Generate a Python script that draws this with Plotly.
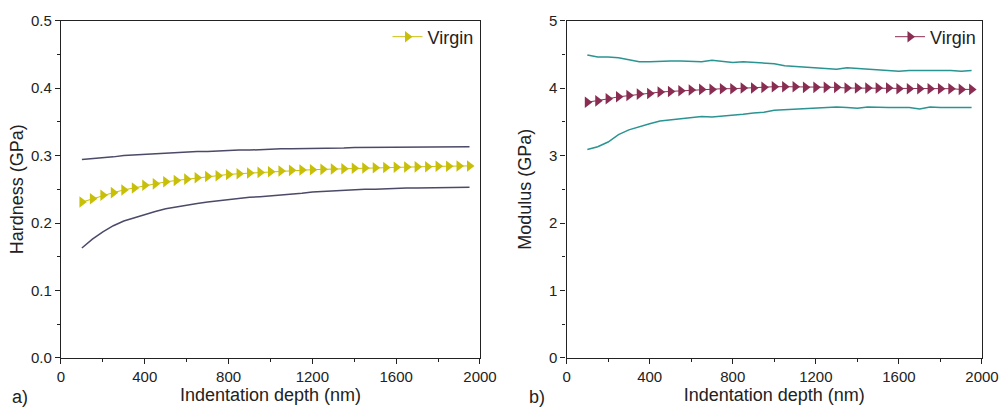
import plotly.graph_objects as go

depth = [100, 150, 200, 250, 300, 350, 400, 450, 500, 550, 600, 650, 700, 750, 800, 850, 900, 950, 1000,
         1050, 1100, 1150, 1200, 1250, 1300, 1350, 1400, 1450, 1500, 1550, 1600, 1650, 1700, 1750, 1800,
         1850, 1900, 1950]

hardness_mean = [0.231, 0.236, 0.241, 0.245, 0.249, 0.252, 0.256, 0.258, 0.261, 0.263, 0.265, 0.267, 0.269,
                 0.270, 0.272, 0.273, 0.274, 0.275, 0.276, 0.277, 0.278, 0.2785, 0.279, 0.2795, 0.280, 0.2805,
                 0.281, 0.2815, 0.282, 0.2822, 0.2825, 0.283, 0.2832, 0.2835, 0.284, 0.2842, 0.2844, 0.2846]
hardness_upper = [0.294, 0.295, 0.296, 0.298, 0.300, 0.301, 0.302, 0.302, 0.303, 0.304, 0.305, 0.306, 0.306,
                  0.307, 0.307, 0.308, 0.308, 0.309, 0.309, 0.310, 0.310, 0.310, 0.311, 0.311, 0.311, 0.311,
                  0.312, 0.312, 0.312, 0.312, 0.313, 0.312, 0.312, 0.313, 0.313, 0.313, 0.313, 0.313]
hardness_lower = [0.163, 0.176, 0.187, 0.196, 0.203, 0.208, 0.213, 0.217, 0.221, 0.224, 0.227, 0.229, 0.231,
                  0.233, 0.235, 0.236, 0.238, 0.239, 0.240, 0.241, 0.243, 0.244, 0.246, 0.247, 0.248, 0.249,
                  0.249, 0.250, 0.250, 0.251, 0.251, 0.252, 0.252, 0.252, 0.253, 0.253, 0.253, 0.253]

modulus_mean = [3.79, 3.81, 3.84, 3.87, 3.89, 3.91, 3.92, 3.94, 3.95, 3.96, 3.97, 3.98, 3.98, 3.99, 3.99,
                4.00, 4.00, 4.01, 4.02, 4.02, 4.02, 4.01, 4.01, 4.01, 4.01, 4.00, 4.00, 4.00, 4.00, 4.00,
                3.99, 3.99, 3.99, 3.99, 3.99, 3.99, 3.98, 3.98]
modulus_upper = [4.49, 4.46, 4.46, 4.45, 4.42, 4.39, 4.39, 4.40, 4.40, 4.40, 4.40, 4.39, 4.41, 4.39, 4.38,
                 4.39, 4.38, 4.37, 4.36, 4.33, 4.32, 4.32, 4.31, 4.29, 4.28, 4.30, 4.29, 4.28, 4.28, 4.27,
                 4.25, 4.26, 4.26, 4.27, 4.26, 4.26, 4.25, 4.26]
modulus_lower = [3.09, 3.13, 3.20, 3.31, 3.38, 3.43, 3.47, 3.51, 3.53, 3.54, 3.56, 3.58, 3.57, 3.58, 3.59,
                 3.61, 3.63, 3.64, 3.67, 3.68, 3.68, 3.69, 3.70, 3.71, 3.72, 3.71, 3.70, 3.72, 3.71, 3.71,
                 3.71, 3.71, 3.69, 3.72, 3.71, 3.71, 3.71, 3.71]

x_ticks = [0, 400, 800, 1200, 1600, 2000]
h_ticks = [0.0, 0.1, 0.2, 0.3, 0.4, 0.5]
m_ticks = [0, 1, 2, 3, 4, 5]

FONT = "Liberation Sans, Arial, sans-serif"
YELLOW = "#C8BF08"
MAROON = "#8A2D52"
SLATE = "#4B4A68"
TEAL = "#2A9492"
INK = "#222222"

fig = go.Figure()

# Hardness panel
fig.add_trace(go.Scatter(x=depth, y=hardness_upper, mode="lines", line=dict(color=SLATE, width=1.5),
                         showlegend=False, xaxis="x", yaxis="y"))
fig.add_trace(go.Scatter(x=depth, y=hardness_lower, mode="lines", line=dict(color=SLATE, width=1.5),
                         showlegend=False, xaxis="x", yaxis="y"))
fig.add_trace(go.Scatter(x=depth, y=hardness_mean, mode="lines+markers", name="Virgin",
                         line=dict(color=YELLOW, width=1),
                         marker=dict(symbol="triangle-right", size=10, color=YELLOW),
                         xaxis="x", yaxis="y", legend="legend"))

# Modulus panel
fig.add_trace(go.Scatter(x=depth, y=modulus_upper, mode="lines", line=dict(color=TEAL, width=1.5),
                         showlegend=False, xaxis="x2", yaxis="y2"))
fig.add_trace(go.Scatter(x=depth, y=modulus_lower, mode="lines", line=dict(color=TEAL, width=1.5),
                         showlegend=False, xaxis="x2", yaxis="y2"))
fig.add_trace(go.Scatter(x=depth, y=modulus_mean, mode="lines+markers", name="Virgin",
                         line=dict(color=MAROON, width=1),
                         marker=dict(symbol="triangle-right", size=10, color=MAROON),
                         xaxis="x2", yaxis="y2", legend="legend2"))

axis_common = dict(showline=True, linecolor=INK, linewidth=1.3, mirror=True, ticks="outside",
                   ticklen=5, tickwidth=1.2, tickcolor=INK, showgrid=False, zeroline=False,
                   automargin=False, ticklabeloverflow="allow",
                   tickfont=dict(family=FONT, size=15, color=INK))

title_font = dict(family=FONT, size=18, color=INK)
ydom = [0.129, 0.950]

fig.update_layout(
    width=1001, height=411,
    margin=dict(l=0, r=0, t=0, b=0, autoexpand=False),
    paper_bgcolor="white", plot_bgcolor="white",
    font=dict(family=FONT, color=INK),
    xaxis=dict(domain=[0.0609, 0.4795], range=[0, 2000], tickvals=x_ticks,
               minor=dict(dtick=200, ticklen=3, ticks="outside", tickcolor=INK),
               title=dict(text="Indentation depth (nm)", font=title_font, standoff=4),
               anchor="y", **axis_common),
    yaxis=dict(domain=ydom, range=[0, 0.5], tickvals=h_ticks, tickformat=".1f",
               minor=dict(dtick=0.05, ticklen=3, ticks="outside", tickcolor=INK),
               title=dict(text="Hardness (GPa)", font=title_font, standoff=2),
               anchor="x", **axis_common),
    xaxis2=dict(domain=[0.566, 0.981], range=[0, 2000], tickvals=x_ticks,
                minor=dict(dtick=200, ticklen=3, ticks="outside", tickcolor=INK),
                title=dict(text="Indentation depth (nm)", font=title_font, standoff=4),
                anchor="y2", **axis_common),
    yaxis2=dict(domain=ydom, range=[0, 5], tickvals=m_ticks,
                minor=dict(dtick=0.5, ticklen=3, ticks="outside", tickcolor=INK),
                title=dict(text="Modulus (GPa)", font=title_font, standoff=12),
                anchor="x2", **axis_common),
    legend=dict(x=0.478, y=0.955, xanchor="right", yanchor="top", bgcolor="rgba(0,0,0,0)",
                font=dict(family=FONT, size=18, color=INK), itemwidth=30),
    legend2=dict(x=0.980, y=0.955, xanchor="right", yanchor="top", bgcolor="rgba(0,0,0,0)",
                 font=dict(family=FONT, size=18, color=INK), itemwidth=30),
    annotations=[
        dict(text="a)", x=0.010, y=0.035, xref="paper", yref="paper", xanchor="left", yanchor="middle",
             showarrow=False, font=dict(family=FONT, size=18, color=INK)),
        dict(text="b)", x=0.526, y=0.035, xref="paper", yref="paper", xanchor="left", yanchor="middle",
             showarrow=False, font=dict(family=FONT, size=18, color=INK)),
    ],
)

fig.write_html("out.html")
